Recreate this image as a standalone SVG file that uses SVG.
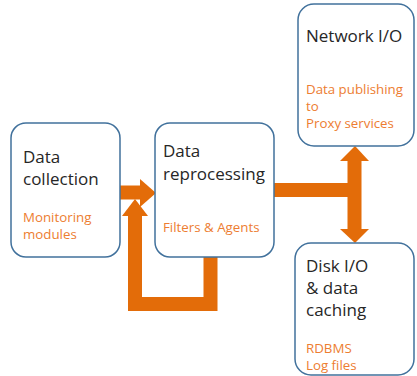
<svg xmlns="http://www.w3.org/2000/svg" width="417" height="376" viewBox="0 0 417 376">
<style>
.box{fill:#fff;stroke:#41719C;stroke-width:1.5}
.t{font-family:"Open Sans","Liberation Sans",sans-serif;font-size:17px;fill:#262626}
.s{font-family:"Open Sans","Liberation Sans",sans-serif;font-size:13.3px;fill:#ED7D31}
.shaft{fill:none;stroke:#E36C09;stroke-width:14}
.head{fill:#E36C09}
</style>
<rect width="417" height="376" fill="#fff"/>
<g id="connectors">
  <path class="shaft" d="M120 192.5 H141"/>
  <polygon class="head" points="140,179 156,193 140,207"/>
  <path class="shaft" d="M210.5 257 V304 H135 V214"/>
  <polygon class="head" points="122,216 135,199 148,216"/>
  <path class="shaft" d="M274 190 H354.5"/>
  <path class="shaft" d="M354.5 160 V230"/>
  <polygon class="head" points="340,161 355,146 369,161"/>
  <polygon class="head" points="340,229 355,243 369,229"/>
</g>
<g id="data-collection">
  <rect class="box" x="11" y="123" width="109" height="134" rx="15"/>
  <text class="t" x="23" y="163">Data</text>
  <text class="t" x="23" y="185">collection</text>
  <text class="s" x="23" y="222">Monitoring</text>
  <text class="s" x="23" y="239">modules</text>
</g>
<g id="data-reprocessing">
  <rect class="box" x="155" y="123" width="119" height="134" rx="15"/>
  <text class="t" x="163" y="157">Data</text>
  <text class="t" x="163" y="180">reprocessing</text>
  <text class="s" x="163" y="232">Filters &amp; Agents</text>
</g>
<g id="network-io">
  <rect class="box" x="298" y="4" width="116" height="142" rx="16"/>
  <text class="t" x="306" y="42">Network I/O</text>
  <text class="s" x="306" y="94">Data publishing</text>
  <text class="s" x="306" y="111">to</text>
  <text class="s" x="306" y="128">Proxy services</text>
</g>
<g id="disk-io">
  <rect class="box" x="295" y="243" width="119" height="132" rx="16"/>
  <text class="t" x="306" y="272">Disk I/O</text>
  <text class="t" x="306" y="294">&amp; data</text>
  <text class="t" x="306" y="316">caching</text>
  <text class="s" x="306" y="353">RDBMS</text>
  <text class="s" x="306" y="370">Log files</text>
</g>
</svg>
